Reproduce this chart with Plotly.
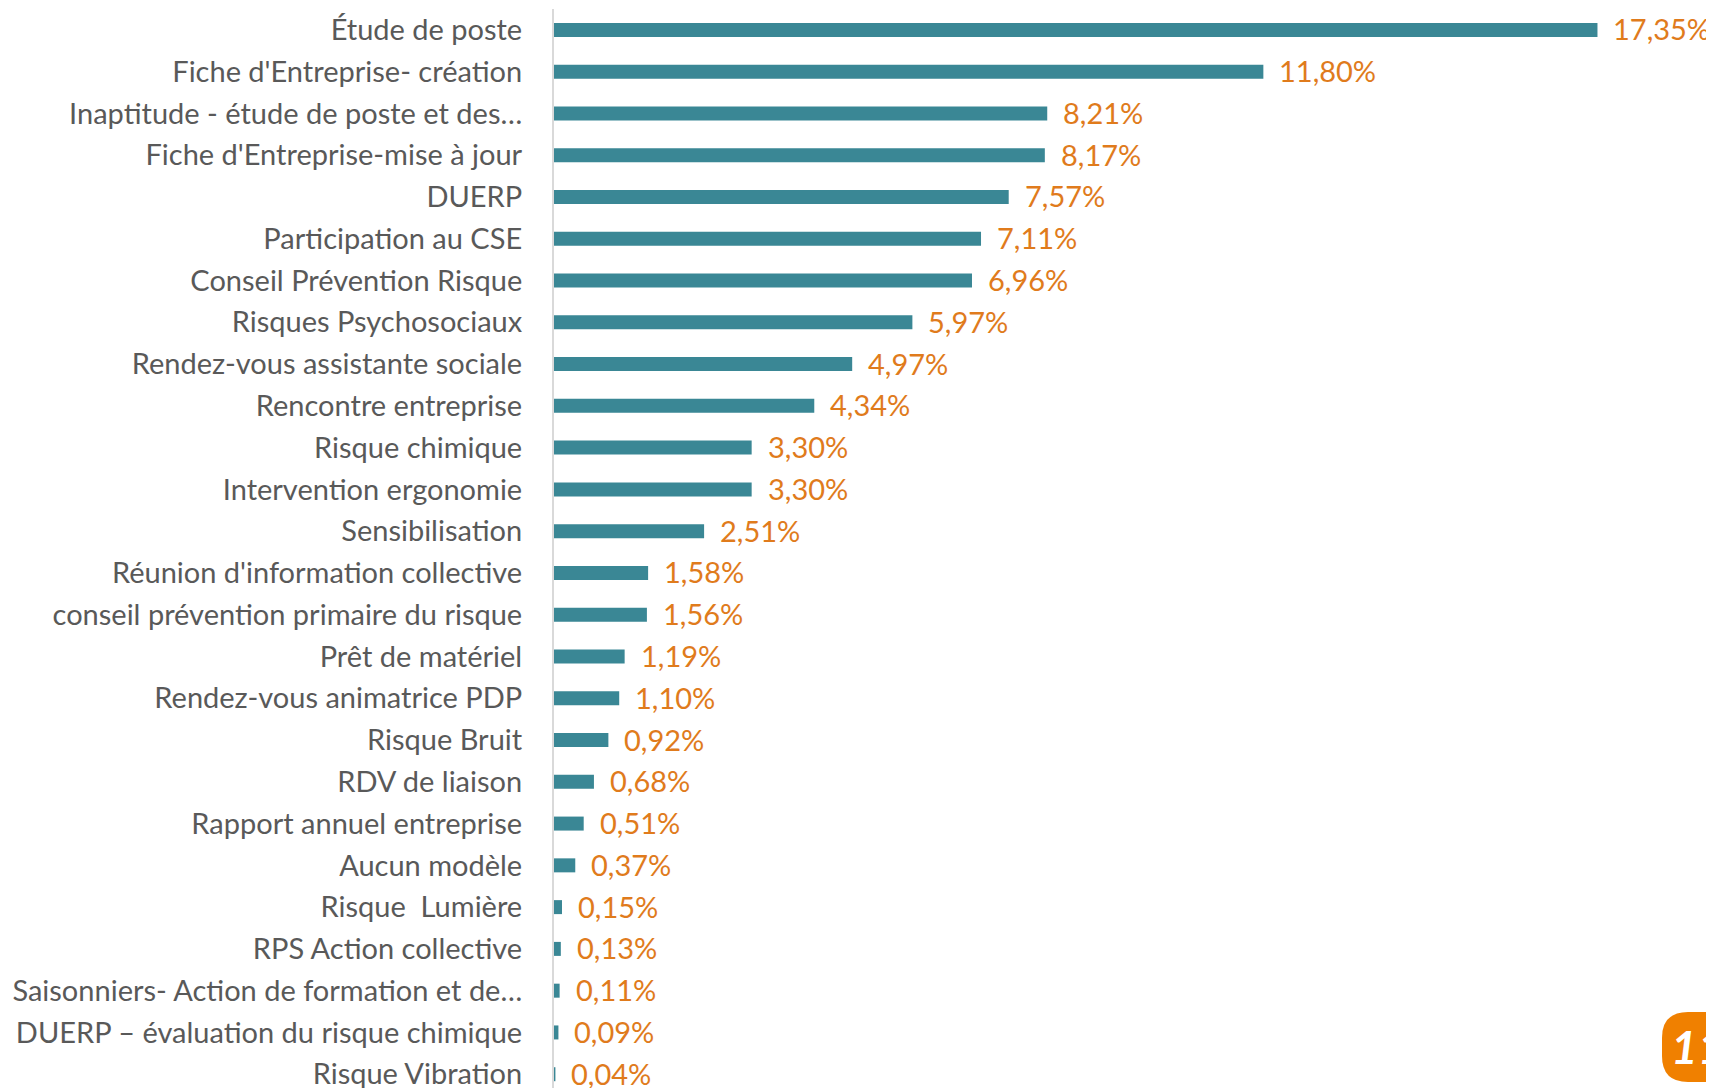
import plotly.graph_objects as go

categories = [
    "Étude de poste",
    "Fiche d'Entreprise- création",
    "Inaptitude - étude de poste et des…",
    "Fiche d'Entreprise-mise à jour",
    "DUERP",
    "Participation au CSE",
    "Conseil Prévention Risque",
    "Risques Psychosociaux",
    "Rendez-vous assistante sociale",
    "Rencontre entreprise",
    "Risque chimique",
    "Intervention ergonomie",
    "Sensibilisation",
    "Réunion d'information collective",
    "conseil prévention primaire du risque",
    "Prêt de matériel",
    "Rendez-vous animatrice PDP",
    "Risque Bruit",
    "RDV de liaison",
    "Rapport annuel entreprise",
    "Aucun modèle",
    "Risque  Lumière",
    "RPS Action collective",
    "Saisonniers- Action de formation et de…",
    "DUERP – évaluation du risque chimique",
    "Risque Vibration",
]
values = [17.35, 11.80, 8.21, 8.17, 7.57, 7.11, 6.96, 5.97, 4.97, 4.34, 3.30, 3.30,
          2.51, 1.58, 1.56, 1.19, 1.10, 0.92, 0.68, 0.51, 0.37, 0.15, 0.13, 0.11, 0.09, 0.04]
value_labels = [f"{v:.2f}".replace(".", ",") + "%" for v in values]
page_number = "11"

# the page body has an 8px default margin: the figure starts at (8, 8)
OFF = 8
W, H = 1714 - OFF, 1088 - OFF
ML, MT = 553 - OFF, 9 - OFF
PW, PH = W - ML, H - MT
px_per_pct = 60.2

FONT = "Lato"
BAR = "#3A8795"
ORANGE = "#E07B1C"
GREY = "#595959"

fig = go.Figure()
fig.add_trace(go.Bar(
    x=values, y=categories, orientation="h",
    marker=dict(color=BAR, line=dict(width=0)),
    hoverinfo="skip",
))

for c, v, t in zip(categories, values, value_labels):
    fig.add_annotation(x=v, y=c, xref="x", yref="y", text=t, showarrow=False,
                       xanchor="left", yanchor="middle", xshift=14, yshift=1,
                       font=dict(family=FONT, size=29, color=ORANGE))

def px_x(p):
    return (p - OFF - ML) / PW

def px_y(p):
    return (H - (p - OFF)) / PH

# page-number badge (rounded tab at bottom right)
x0, x1, y0, y1, r = 1662, 1760, 1012, 1082, 26
path = (f"M {px_x(x0 + r)},{px_y(y0)} L {px_x(x1)},{px_y(y0)} L {px_x(x1)},{px_y(y1)} "
        f"L {px_x(x0 + r)},{px_y(y1)} "
        f"Q {px_x(x0)},{px_y(y1)} {px_x(x0)},{px_y(y1 - r)} "
        f"L {px_x(x0)},{px_y(y0 + r)} "
        f"Q {px_x(x0)},{px_y(y0)} {px_x(x0 + r)},{px_y(y0)} Z")
fig.add_shape(type="path", path=path, xref="paper", yref="paper",
              fillcolor="#F08000", line=dict(width=0), layer="above")
fig.add_annotation(x=px_x(1669), y=px_y(1046), xref="paper", yref="paper",
                   text=f"<b><i>{page_number}</i></b>", showarrow=False,
                   xanchor="left", yanchor="middle",
                   font=dict(family=FONT, size=46, color="white"))

fig.update_layout(
    width=W, height=H,
    margin=dict(l=ML, r=0, t=MT, b=0, autoexpand=False),
    paper_bgcolor="white", plot_bgcolor="white",
    bargap=0.665,
    showlegend=False,
    xaxis=dict(range=[0, PW / px_per_pct], visible=False, fixedrange=True),
    yaxis=dict(
        type="category", categoryorder="array", categoryarray=categories,
        range=[25.33, -0.5],
        showgrid=False, zeroline=False,
        showline=False,
        ticks="outside", ticklen=24, tickcolor="rgba(0,0,0,0)",
        tickfont=dict(family=FONT, size=29, color=GREY),
        automargin=False,
    ),
)
fig.add_shape(type="line", xref="paper", yref="paper", x0=0, x1=0, y0=0, y1=1,
              line=dict(color="#D9D9D9", width=2))

fig.write_html("out.html")
